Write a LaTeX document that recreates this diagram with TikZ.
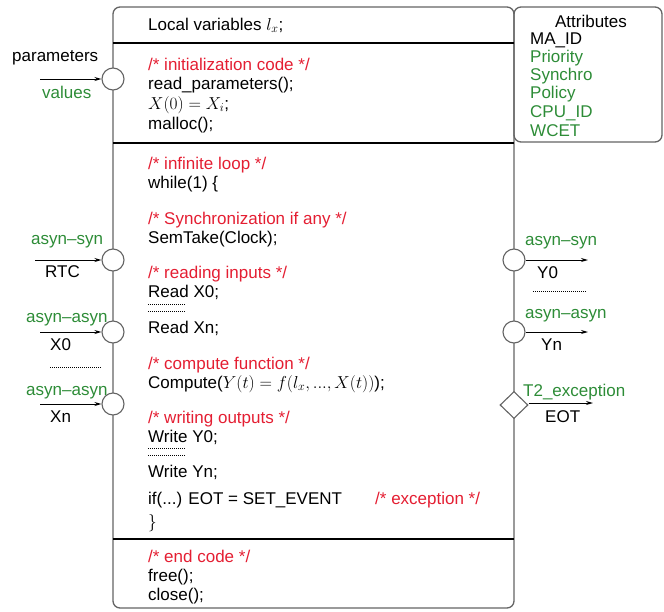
\documentclass[tikz,border=0pt]{standalone}
\usepackage{fontspec}
\setmainfont{Liberation Sans}
\usetikzlibrary{arrows.meta,shapes.geometric}
\definecolor{cred}{RGB}{228,30,50}
\definecolor{cgreen}{RGB}{45,140,55}
\definecolor{cbox}{RGB}{100,100,100}
\begin{document}
\begin{tikzpicture}[x=1pt,y=-1pt,
  txt/.style={anchor=base west,inner sep=0pt,font=\fontsize{17}{19}\selectfont},
  cmt/.style={txt,text=cred},
  grn/.style={txt,text=cgreen},
  port/.style={circle,draw=cbox,fill=white,line width=1.1pt,minimum size=22pt,inner sep=0pt},
  exc/.style={diamond,draw=cbox,fill=white,line width=1.1pt,minimum width=28pt,minimum height=27pt,inner sep=0pt},
  arr/.style={-{Stealth[length=7pt,width=4pt]},line width=1pt},
  dotline/.style={line width=0.8pt,dash pattern=on 1pt off 1pt},
  sep/.style={line width=1.2pt}]
\useasboundingbox (0,0) rectangle (664,611);
% boxes
\draw[cbox,line width=1.3pt,rounded corners=7pt] (113,7) rectangle (514,608);
\draw[cbox,line width=1.3pt,rounded corners=7pt] (514,7) rectangle (662,142);
\draw[sep] (113,43) -- (514,43);
\draw[sep] (113,143) -- (514,143);
\draw[sep] (113,539) -- (514,539);
% code text
\node[txt] (t1) at (148,30) {Local variables $l_x$;};
\node[cmt] (t2) at (148,70) {/* initialization code */};
\node[txt] (t3) at (148,89) {read\_parameters();};
\node[txt] (t4) at (148,109) {$X(0) = X_i$;};
\node[txt] (t5) at (148,129) {malloc();};
\node[cmt] (t6) at (148,169) {/* infinite loop */};
\node[txt] (t7) at (148,188) {while(1) \{};
\node[cmt] (t8) at (148,224) {/* Synchronization if any */};
\node[txt] (t9) at (148,243) {SemTake(Clock);};
\node[cmt] (t10) at (148,278) {/* reading inputs */};
\node[txt] (t11) at (148,297) {Read X0;};
\draw[dotline] (148,304) -- (186,304);
\draw[dotline] (148,311) -- (186,311);
\node[txt] (t12) at (148,333) {Read Xn;};
\node[cmt] (t13) at (148,369) {/* compute function */};
\node[txt] (t14) at (148,388) {Compute($Y(t) = f(l_x, ..., X(t))$);};
\node[cmt] (t15) at (148,423) {/* writing outputs */};
\node[txt] (t16) at (148,442) {Write Y0;};
\draw[dotline] (148,448) -- (186,448);
\draw[dotline] (148,455) -- (186,455);
\node[txt] (t17) at (148,477) {Write Yn;};
\node[txt] (t18) at (148,504) {if(...) EOT = SET\_EVENT};
\node[cmt] (t19) at (375,504) {/* exception */};
\node[txt] (t20) at (148,527) {$\}$};
\node[cmt] (t21) at (148,562) {/* end code */};
\node[txt] (t22) at (148,581) {free();};
\node[txt] (t23) at (148,600) {close();};
% attributes
\node[txt,anchor=base] (a0) at (591,27) {Attributes};
\node[txt] (a1) at (530,44) {MA\_ID};
\node[grn] (a2) at (530,62) {Priority};
\node[grn] (a3) at (530,80) {Synchro};
\node[grn] (a4) at (530,98) {Policy};
\node[grn] (a5) at (530,117) {CPU\_ID};
\node[grn] (a6) at (530,136) {WCET};
% left ports
\node[port] (pp) at (113,79) {};
\coordinate (pin) at (40,79);
\draw[arr] (pin) -- (pp);
\node[txt] (lp1) at (12,61) {parameters};
\node[grn] (lp2) at (42,98) {values};

\node[port] (prtc) at (113,260) {};
\coordinate (rtcin) at (35,260);
\draw[arr] (rtcin) -- (prtc);
\node[grn] (lr1) at (31,244) {asyn--syn};
\node[txt] (lr2) at (45,277) {RTC};

\node[port] (px0) at (113,332) {};
\coordinate (x0in) at (40,332);
\draw[arr] (x0in) -- (px0);
\node[grn] (lx1) at (26,322) {asyn--asyn};
\node[txt] (lx2) at (50,350) {X0};
\coordinate (ldA) at (50,367);
\coordinate (ldB) at (102,367);
\draw[dotline] (ldA) -- (ldB);

\node[port] (pxn) at (113,404) {};
\coordinate (xnin) at (40,404);
\draw[arr] (xnin) -- (pxn);
\node[grn] (ln1) at (26,395) {asyn--asyn};
\node[txt] (ln2) at (50,422) {Xn};
% right ports
\node[port] (py0) at (514,260) {};
\coordinate (y0out) at (588,260);
\draw[arr] (py0) -- (y0out);
\node[grn] (ry1) at (525,245) {asyn--syn};
\node[txt] (ry2) at (537,278) {Y0};
\coordinate (rdA) at (533,291);
\coordinate (rdB) at (587,291);
\draw[dotline] (rdA) -- (rdB);

\node[port] (pyn) at (514,332) {};
\coordinate (ynout) at (588,332);
\draw[arr] (pyn) -- (ynout);
\node[grn] (rn1) at (525,318) {asyn--asyn};
\node[txt] (rn2) at (541,350) {Yn};

\node[exc] (peot) at (514,405) {};
\coordinate (eotout) at (593,403);
\draw[arr] (peot.east |- eotout) -- (eotout);
\node[grn] (re1) at (523,396) {T2\_exception};
\node[txt] (re2) at (545,422) {EOT};
\end{tikzpicture}
\end{document}
